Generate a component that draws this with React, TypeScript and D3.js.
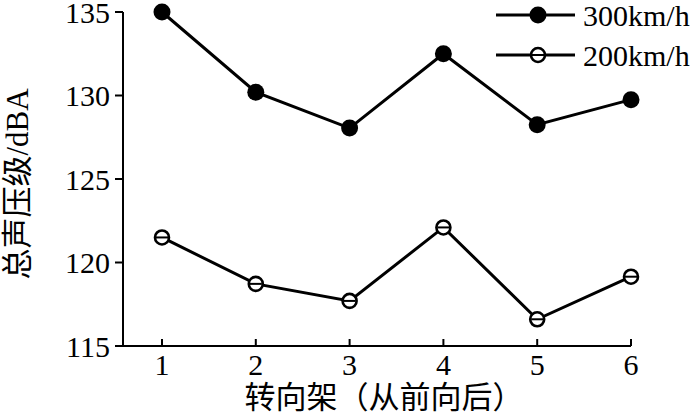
import React from "react";
import * as d3 from "d3";

const bogies = [1, 2, 3, 4, 5, 6];
const series300 = [135.0, 130.2, 128.05, 132.5, 128.25, 129.75];
const series200 = [121.5, 118.72, 117.7, 122.1, 116.6, 119.15];
const yTicks = [115, 120, 125, 130, 135];
const seriesNames = ["300km/h", "200km/h"];
const xTitle = "转向架（从前向后）";
const yTitleCjk = "总声压级";
const yTitleUnit = "/dBA";

const W = 700;
const H = 413;
const serif = "'Liberation Serif', 'Times New Roman', serif";
const cjk = "'Noto Sans CJK SC', sans-serif";

export default function App() {
  const x = d3.scaleLinear().domain([1, 6]).range([162, 631]);
  const y = d3.scaleLinear().domain([115, 135]).range([346, 12]);
  const axisLeft = 123;
  const axisRight = x(6);
  const line = d3
    .line<number>()
    .x((_, i) => x(bogies[i]))
    .y((d) => y(d));

  const filledMarker = (cx: number, cy: number, key: string) => (
    <circle key={key} cx={cx} cy={cy} r={8.5} fill="#000" />
  );
  const openMarker = (cx: number, cy: number, key: string) => (
    <g key={key}>
      <circle cx={cx} cy={cy} r={7} fill="#fff" stroke="#000" strokeWidth={2.6} />
      <line x1={cx - 6} x2={cx + 6} y1={cy} y2={cy} stroke="#000" strokeWidth={2} />
    </g>
  );

  return (
    <svg
      width={W}
      height={H}
      style={{ position: "absolute", left: 0, top: 0, background: "#fff" }}
    >
      <rect width={W} height={H} fill="#fff" />
      {/* axes */}
      <line x1={axisLeft} x2={axisLeft} y1={y(135)} y2={y(115)} stroke="#000" strokeWidth={2} />
      <line x1={axisLeft} x2={axisRight} y1={y(115)} y2={y(115)} stroke="#000" strokeWidth={2} />
      {yTicks.map((t) => (
        <g key={"yt" + t}>
          <line x1={axisLeft - 8} x2={axisLeft} y1={y(t)} y2={y(t)} stroke="#000" strokeWidth={2} />
          <text
            x={axisLeft - 13}
            y={y(t)}
            dy="0.35em"
            textAnchor="end"
            fontFamily={serif}
            fontSize={30}
            fill="#000"
          >
            {t}
          </text>
        </g>
      ))}
      {bogies.map((b) => (
        <g key={"xt" + b}>
          <line x1={x(b)} x2={x(b)} y1={y(115)} y2={y(115) - 7} stroke="#000" strokeWidth={2} />
          <text
            x={x(b)}
            y={y(115) + 29}
            textAnchor="middle"
            fontFamily={serif}
            fontSize={30}
            fill="#000"
          >
            {b}
          </text>
        </g>
      ))}
      <text
        x={384}
        y={408}
        textAnchor="middle"
        fontFamily={cjk}
        fontSize={31}
        fill="#000"
      >
        {xTitle}
      </text>
      <text
        transform={`translate(28, 184) rotate(-90)`}
        textAnchor="middle"
        fontSize={31}
        fill="#000"
      >
        <tspan fontFamily={cjk}>{yTitleCjk}</tspan>
        <tspan fontFamily={serif}>{yTitleUnit}</tspan>
      </text>
      {/* lines */}
      <path d={line(series300) || ""} fill="none" stroke="#000" strokeWidth={3} />
      <path d={line(series200) || ""} fill="none" stroke="#000" strokeWidth={3} />
      {series300.map((v, i) => filledMarker(x(bogies[i]), y(v), "a" + i))}
      {series200.map((v, i) => openMarker(x(bogies[i]), y(v), "b" + i))}
      {/* legend */}
      {seriesNames.map((n, i) => {
        const ly = 15 + i * 40;
        return (
          <g key={"lg" + i}>
            <line x1={496} x2={575} y1={ly} y2={ly} stroke="#000" strokeWidth={3} />
            {i === 0 ? filledMarker(538, ly, "lm0") : openMarker(538, ly, "lm1")}
            <text
              x={583}
              y={ly}
              dy="0.35em"
              fontFamily={serif}
              fontSize={30}
              fill="#000"
            >
              {n}
            </text>
          </g>
        );
      })}
    </svg>
  );
}
